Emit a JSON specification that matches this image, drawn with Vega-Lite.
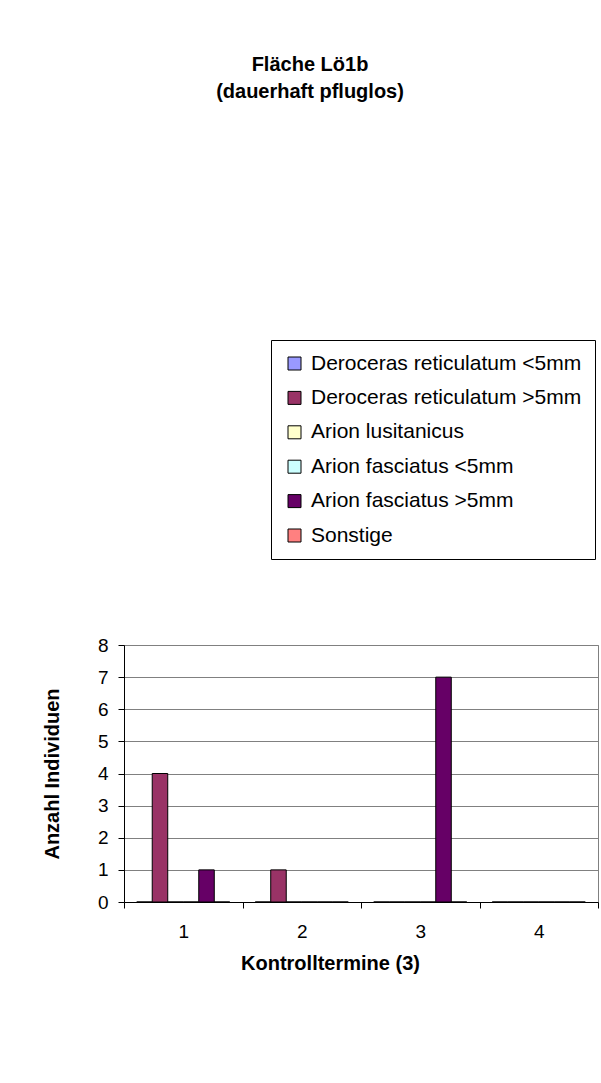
{
  "$schema": "https://vega.github.io/schema/vega-lite/v6.json",
  "autosize": {"type": "none"},
  "padding": {"left": 124, "top": 645, "right": 3, "bottom": 181},
  "width": 474,
  "height": 257,
  "background": "white",
  "title": {
    "text": ["Fläche Lö1b", "(dauerhaft pfluglos)"],
    "font": "Liberation Sans",
    "fontSize": 20,
    "fontWeight": "bold",
    "color": "black",
    "anchor": "middle",
    "frame": "group",
    "lineHeight": 27,
    "offset": 238,
    "dx": -51
  },
  "data": {
    "values": [
      {"Termin": "1", "Art": "Deroceras reticulatum <5mm", "Anzahl": 0},
      {"Termin": "1", "Art": "Deroceras reticulatum >5mm", "Anzahl": 4},
      {"Termin": "1", "Art": "Arion lusitanicus", "Anzahl": 0},
      {"Termin": "1", "Art": "Arion fasciatus <5mm", "Anzahl": 0},
      {"Termin": "1", "Art": "Arion fasciatus >5mm", "Anzahl": 1},
      {"Termin": "1", "Art": "Sonstige", "Anzahl": 0},
      {"Termin": "2", "Art": "Deroceras reticulatum <5mm", "Anzahl": 0},
      {"Termin": "2", "Art": "Deroceras reticulatum >5mm", "Anzahl": 1},
      {"Termin": "2", "Art": "Arion lusitanicus", "Anzahl": 0},
      {"Termin": "2", "Art": "Arion fasciatus <5mm", "Anzahl": 0},
      {"Termin": "2", "Art": "Arion fasciatus >5mm", "Anzahl": 0},
      {"Termin": "2", "Art": "Sonstige", "Anzahl": 0},
      {"Termin": "3", "Art": "Deroceras reticulatum <5mm", "Anzahl": 0},
      {"Termin": "3", "Art": "Deroceras reticulatum >5mm", "Anzahl": 0},
      {"Termin": "3", "Art": "Arion lusitanicus", "Anzahl": 0},
      {"Termin": "3", "Art": "Arion fasciatus <5mm", "Anzahl": 0},
      {"Termin": "3", "Art": "Arion fasciatus >5mm", "Anzahl": 7},
      {"Termin": "3", "Art": "Sonstige", "Anzahl": 0},
      {"Termin": "4", "Art": "Deroceras reticulatum <5mm", "Anzahl": 0},
      {"Termin": "4", "Art": "Deroceras reticulatum >5mm", "Anzahl": 0},
      {"Termin": "4", "Art": "Arion lusitanicus", "Anzahl": 0},
      {"Termin": "4", "Art": "Arion fasciatus <5mm", "Anzahl": 0},
      {"Termin": "4", "Art": "Arion fasciatus >5mm", "Anzahl": 0},
      {"Termin": "4", "Art": "Sonstige", "Anzahl": 0}
    ]
  },
  "mark": {"type": "bar", "stroke": "black", "strokeWidth": 1},
  "encoding": {
    "x": {
      "field": "Termin",
      "type": "nominal",
      "scale": {"paddingInner": 0, "paddingOuter": 0},
      "axis": {
        "title": "Kontrolltermine (3)",
        "labelAngle": 0,
        "tickBand": "extent",
        "tickSize": 6,
        "labelPadding": 14,
        "titlePadding": 12,
        "titleX": 206
      }
    },
    "xOffset": {
      "field": "Art",
      "type": "nominal",
      "sort": null,
      "scale": {
        "domain": ["Deroceras reticulatum <5mm", "Deroceras reticulatum >5mm", "Arion lusitanicus", "Arion fasciatus <5mm", "Arion fasciatus >5mm", "Sonstige"],
        "paddingInner": 0,
        "paddingOuter": 0.82
      }
    },
    "y": {
      "field": "Anzahl",
      "type": "quantitative",
      "scale": {"domain": [0, 8], "nice": false},
      "axis": {
        "title": "Anzahl Individuen",
        "values": [0, 1, 2, 3, 4, 5, 6, 7, 8],
        "tickSize": 6,
        "labelPadding": 10,
        "titlePadding": 35,
        "grid": true
      }
    },
    "color": {
      "field": "Art",
      "type": "nominal",
      "scale": {
        "domain": ["Deroceras reticulatum <5mm", "Deroceras reticulatum >5mm", "Arion lusitanicus", "Arion fasciatus <5mm", "Arion fasciatus >5mm", "Sonstige"],
        "range": ["#9999FF", "#993366", "#FFFFCC", "#CCFFFF", "#660066", "#FF8080"]
      },
      "legend": {
        "title": null,
        "orient": "none",
        "legendX": 147,
        "legendY": -305,
        "symbolType": "square",
        "symbolSize": 169,
        "symbolStrokeColor": "black",
        "symbolStrokeWidth": 1,
        "symbolOpacity": 1,
        "labelFont": "Liberation Sans",
        "labelFontSize": 21,
        "labelColor": "black",
        "labelOffset": 6,
        "labelLimit": 400,
        "rowPadding": 12.4,
        "padding": 13,
        "strokeColor": "black",
        "fillColor": "white"
      }
    }
  },
  "config": {
    "view": {"stroke": "#808080", "strokeWidth": 1},
    "axis": {
      "labelFont": "Liberation Sans",
      "labelFontSize": 19,
      "labelColor": "black",
      "titleFont": "Liberation Sans",
      "titleFontSize": 20,
      "titleFontWeight": "bold",
      "titleColor": "black",
      "domainColor": "black",
      "tickColor": "black",
      "gridColor": "#808080",
      "gridOpacity": 1
    }
  }
}
